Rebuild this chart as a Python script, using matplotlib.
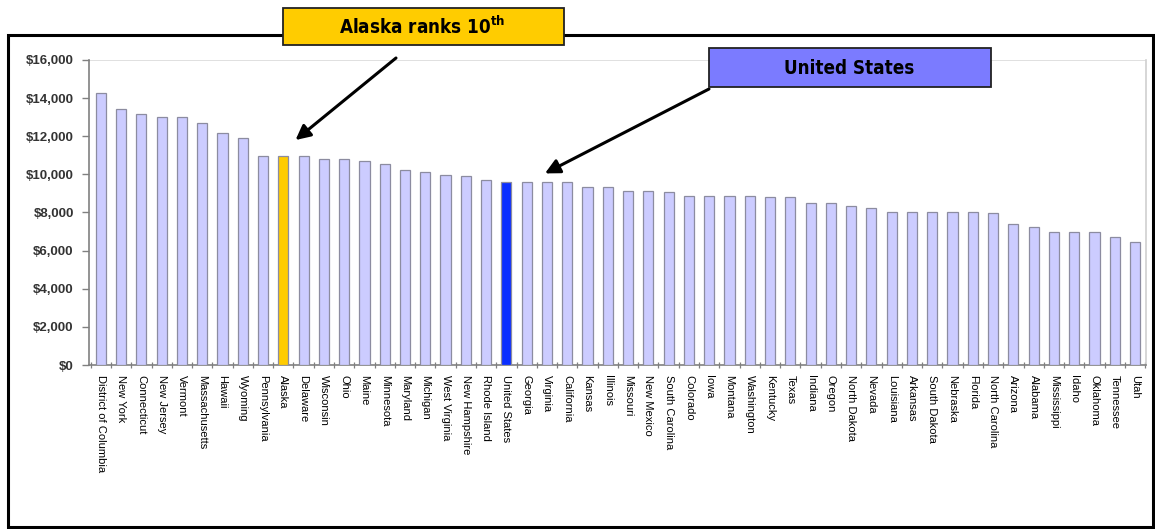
import matplotlib.pyplot as plt
from matplotlib.patches import Rectangle
from matplotlib.ticker import FuncFormatter, FixedLocator
import numpy as np

# Per-pupil spending by state, sorted high to low
states = ['District of Columbia', 'New York', 'Connecticut', 'New Jersey', 'Vermont',
          'Massachusetts', 'Hawaii', 'Wyoming', 'Pennsylvania', 'Alaska', 'Delaware',
          'Wisconsin', 'Ohio', 'Maine', 'Minnesota', 'Maryland', 'Michigan',
          'West Virginia', 'New Hampshire', 'Rhode Island', 'United States', 'Georgia',
          'Virginia', 'California', 'Kansas', 'Illinois', 'Missouri', 'New Mexico',
          'South Carolina', 'Colorado', 'Iowa', 'Montana', 'Washington', 'Kentucky',
          'Texas', 'Indiana', 'Oregon', 'North Dakota', 'Nevada', 'Louisiana',
          'Arkansas', 'South Dakota', 'Nebraska', 'Florida', 'North Carolina',
          'Arizona', 'Alabama', 'Mississippi', 'Idaho', 'Oklahoma', 'Tennessee', 'Utah']
spending = [14250, 13450, 13180, 12990, 12990,
            12720, 12170, 11900, 10970, 10970, 10970,
            10800, 10800, 10710, 10540, 10250, 10150,
            9990, 9890, 9720, 9600, 9600,
            9600, 9600, 9340, 9340, 9150, 9150,
            9070, 8890, 8890, 8890, 8890, 8790,
            8790, 8510, 8510, 8330, 8230, 8050,
            8050, 8050, 8050, 8050, 7960,
            7420, 7250, 6970, 6970, 6970, 6690, 6430]
yticks = [0, 2000, 4000, 6000, 8000, 10000, 12000, 14000, 16000]

bar_color = '#CCCCFF'
highlight = {'Alaska': '#FFCC00', 'United States': '#0A2EFF'}
colors = [highlight.get(s, bar_color) for s in states]

fig = plt.figure(figsize=(11.55, 5.29), dpi=100, facecolor='white')
ax = fig.add_axes([0.0771, 0.3100, 0.9151, 0.5766])

x = np.arange(len(states))
ax.bar(x, spending, width=0.5, color=colors, edgecolor='#8C8CA0', linewidth=0.9, zorder=3)

ax.set_xlim(-0.58, len(states) - 0.46)
ax.set_ylim(0, 16000)
ax.yaxis.set_major_locator(FixedLocator(yticks))
ax.yaxis.set_major_formatter(FuncFormatter(lambda v, p: '${:,.0f}'.format(v)))
for lab in ax.get_yticklabels():
    lab.set_fontweight('bold')
    lab.set_family('Liberation Sans')
ax.tick_params(axis='y', labelsize=9.5, labelcolor='#333333', color='#808080',
               length=5, width=1, direction='out', pad=6)

# category labels read top-to-bottom, ticks sit between the bars
ax.set_xticks(x)
ax.set_xticklabels(states, rotation=-90, ha='center', va='top',
                   fontsize=8, family='Liberation Sans')
ax.tick_params(axis='x', which='major', length=0, pad=7)
ax.set_xticks(np.arange(-0.5, len(states), 1.0), minor=True)
ax.tick_params(axis='x', which='minor', length=4, width=0.9, color='#808080',
               direction='inout')

ax.axhline(16000, color='#DADADA', lw=1.2, zorder=1)
for side in ['left', 'bottom']:
    ax.spines[side].set_color('#808080')
    ax.spines[side].set_linewidth(1.2)
ax.spines['top'].set_visible(False)
ax.spines['right'].set_color('#D0D0D0')
ax.spines['right'].set_linewidth(1.2)

# outer frame of the slide
fig.patches.append(Rectangle((8 / 1155, 1 - 527 / 529), 1145 / 1155, 492 / 529,
                             transform=fig.transFigure, fill=False,
                             edgecolor='black', lw=2.2, zorder=0))

callout = dict(ha='center', va='center', fontsize=13.5, fontweight='bold',
               family='DejaVu Sans', fontstretch='condensed', zorder=6)

# Alaska callout
fig.patches.append(Rectangle((283 / 1155, 1 - 45 / 529), 281 / 1155, 37 / 529,
                             transform=fig.transFigure, facecolor='#FFCC00',
                             edgecolor='#222222', lw=1.3, zorder=5))
fig.text(422 / 1155, 1 - 27 / 529, 'Alaska ranks 10$^{\\mathregular{th}}$', **callout)
ax.annotate('', xy=(9.6, 11800), xycoords='data',
            xytext=(396 / 1155, 1 - 58 / 529), textcoords='figure fraction',
            arrowprops=dict(arrowstyle='-|>', color='black', lw=2.2,
                            mutation_scale=22, shrinkA=0, shrinkB=0),
            annotation_clip=False, zorder=6)

# United States callout
fig.patches.append(Rectangle((709 / 1155, 1 - 87 / 529), 282 / 1155, 39 / 529,
                             transform=fig.transFigure, facecolor='#7B7BFF',
                             edgecolor='#222222', lw=1.3, zorder=5))
fig.text(849 / 1155, 1 - 68 / 529, 'United States', **callout)
ax.annotate('', xy=(21.9, 10050), xycoords='data',
            xytext=(709 / 1155, 1 - 89 / 529), textcoords='figure fraction',
            arrowprops=dict(arrowstyle='-|>', color='black', lw=2.2,
                            mutation_scale=22, shrinkA=0, shrinkB=0),
            annotation_clip=False, zorder=6)

plt.savefig('out.png', dpi=100, facecolor='white')
